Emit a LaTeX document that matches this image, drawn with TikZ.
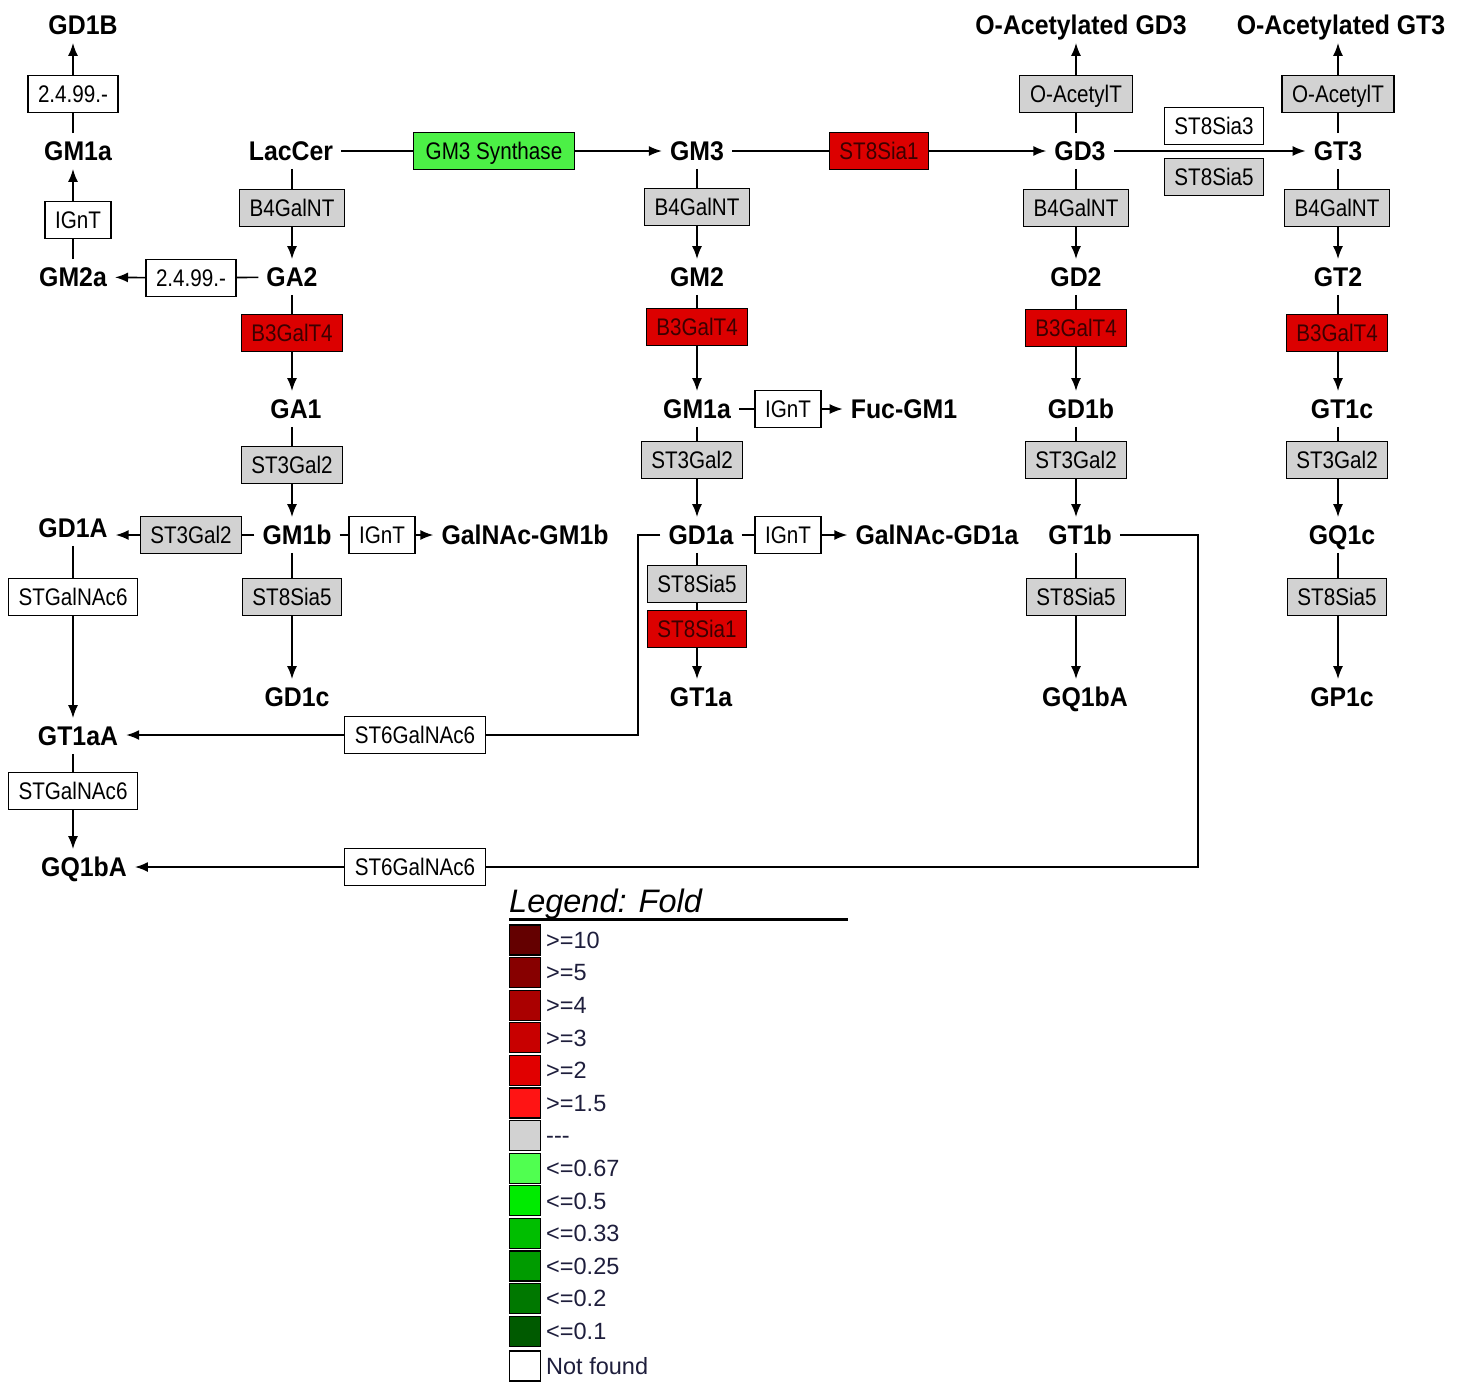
\documentclass[tikz,border=0pt]{standalone}
\usepackage{fontspec}
\setmainfont{Liberation Sans}
\newfontfamily\enzfont[FakeStretch=0.86]{Liberation Sans}
\newfontfamily\metfont[FakeStretch=0.92]{Liberation Sans}
\usetikzlibrary{arrows.meta}
\definecolor{enzgray}{RGB}{210,210,210}
\definecolor{enzred}{RGB}{220,0,0}
\definecolor{enzgreen}{RGB}{76,240,70}
\definecolor{redtext}{RGB}{60,0,0}
\definecolor{legtext}{RGB}{30,30,60}
\definecolor{lg1}{RGB}{100,0,0}
\definecolor{lg2}{RGB}{135,0,0}
\definecolor{lg3}{RGB}{170,0,0}
\definecolor{lg4}{RGB}{200,0,0}
\definecolor{lg5}{RGB}{225,0,0}
\definecolor{lg6}{RGB}{255,20,20}
\definecolor{lg7}{RGB}{210,210,210}
\definecolor{lg8}{RGB}{80,255,80}
\definecolor{lg9}{RGB}{0,235,0}
\definecolor{lg10}{RGB}{0,190,0}
\definecolor{lg11}{RGB}{0,155,0}
\definecolor{lg12}{RGB}{0,120,0}
\definecolor{lg13}{RGB}{0,90,0}
\begin{document}
\begin{tikzpicture}[x=1pt,y=-1pt,
  met/.style={font=\metfont\bfseries\fontsize{27}{30}\selectfont, text height=19.5pt, text depth=0pt, inner xsep=8pt, inner ysep=8pt},
  enz/.style={draw, line width=1.3pt, font=\enzfont\fontsize{24}{28}\selectfont, text height=17pt, text depth=0pt, inner xsep=10pt, inner ysep=0pt, minimum height=37pt, fill=white},
  ew/.style={enz},
  eg/.style={enz, fill=enzgray},
  er/.style={enz, fill=enzred, text=redtext},
  egn/.style={enz, fill=enzgreen},
  ln/.style={line width=1.6pt},
  arr/.style={line width=1.6pt, -{Latex[length=13pt,width=10pt]}},
  sw/.style={draw, line width=1.3pt, minimum width=31pt, minimum height=30pt, inner sep=0pt},
  lgl/.style={anchor=west, text=legtext, font=\fontsize{23.5}{26}\selectfont, text height=16.5pt, text depth=0pt, inner sep=0pt}
]
\useasboundingbox (0,0) rectangle (1467,1382);
\fill[white] (0,0) rectangle (1467,1382);
\coordinate (c1) at (73,0);
\coordinate (c2) at (292,0);
\coordinate (c3) at (697,0);
\coordinate (c4) at (1076,0);
\coordinate (c5) at (1338,0);

% metabolites
\node[met] (GD1B) at (83,25) {GD1B};
\node[met] (GM1aL) at (78,151) {GM1a};
\node[met] (GM2a) at (73,277) {GM2a};
\node[met] (LacCer) at (291,151) {LacCer};
\node[met] (GA2) at (292,277) {GA2};
\node[met] (GA1) at (296,409) {GA1};
\node[met] (GM1b) at (297,535) {GM1b};
\node[met] (GD1A) at (73,528) {GD1A};
\node[met] (GalGM1b) at (525,535) {GalNAc-GM1b};
\node[met] (GD1c) at (297,697) {GD1c};
\node[met] (GT1aA) at (78,736) {GT1aA};
\node[met] (GQ1bAL) at (84,867) {GQ1bA};
\node[met] (GM3) at (697,151) {GM3};
\node[met] (GM2) at (697,277) {GM2};
\node[met] (GM1aM) at (697,409) {GM1a};
\node[met] (FucGM1) at (904,409) {Fuc-GM1};
\node[met] (GD1a) at (701,535) {GD1a};
\node[met] (GalGD1a) at (937,535) {GalNAc-GD1a};
\node[met] (GT1a) at (701,697) {GT1a};
\node[met] (GD3) at (1080,151) {GD3};
\node[met] (GD2) at (1076,277) {GD2};
\node[met] (GD1b) at (1081,409) {GD1b};
\node[met] (GT1b) at (1080,535) {GT1b};
\node[met] (GQ1bAR) at (1085,697) {GQ1bA};
\node[met] (OAGD3) at (1081,25) {O-Acetylated GD3};
\node[met] (GT3) at (1338,151) {GT3};
\node[met] (GT2) at (1338,277) {GT2};
\node[met] (GT1c) at (1342,409) {GT1c};
\node[met] (GQ1c) at (1342,535) {GQ1c};
\node[met] (GP1c) at (1342,697) {GP1c};
\node[met] (OAGT3) at (1341,25) {O-Acetylated GT3};

% enzymes
\node[ew] (e24a) at (73,94) {2.4.99.-};
\node[ew] (ig1) at (78,220) {IGnT};
\node[ew] (e24b) at (191,278) {2.4.99.-};
\node[eg] (b4a) at (292,208) {B4GalNT};
\node[er] (b3a) at (292,333) {B3GalT4};
\node[eg] (s3a) at (292,465) {ST3Gal2};
\node[eg] (s3e) at (191,535) {ST3Gal2};
\node[ew] (ig3) at (382,535) {IGnT};
\node[ew, minimum width=129pt] (stg1) at (73,597) {STGalNAc6};
\node[eg] (s8a) at (292,597) {ST8Sia5};
\node[ew, minimum width=140pt] (st6a) at (415,735) {ST6GalNAc6};
\node[ew, minimum width=129pt] (stg2) at (73,791) {STGalNAc6};
\node[ew, minimum width=140pt] (st6b) at (415,867) {ST6GalNAc6};
\node[egn, minimum width=161pt] (gm3s) at (494,151) {GM3 Synthase};
\node[eg] (b4b) at (697,207) {B4GalNT};
\node[er] (b3b) at (697,327) {B3GalT4};
\node[ew] (ig2) at (788,409) {IGnT};
\node[eg] (s3b) at (692,460) {ST3Gal2};
\node[ew] (ig4) at (788,535) {IGnT};
\node[eg] (s8b) at (697,584) {ST8Sia5};
\node[er] (s8c) at (697,629) {ST8Sia1};
\node[er] (st1t) at (879,151) {ST8Sia1};
\node[eg, minimum width=113pt] (oa1) at (1076,94) {O-AcetylT};
\node[ew] (st3x) at (1214,126) {ST8Sia3};
\node[eg] (st5x) at (1214,177) {ST8Sia5};
\node[eg] (b4c) at (1076,208) {B4GalNT};
\node[er] (b3c) at (1076,328) {B3GalT4};
\node[eg] (s3c) at (1076,460) {ST3Gal2};
\node[eg] (s8d) at (1076,597) {ST8Sia5};
\node[eg, minimum width=111pt] (oa2) at (1338,94) {O-AcetylT};
\node[eg] (b4d) at (1337,208) {B4GalNT};
\node[er] (b3d) at (1337,333) {B3GalT4};
\node[eg] (s3d) at (1337,460) {ST3Gal2};
\node[eg] (s8e) at (1337,597) {ST8Sia5};

% column 1
\draw[ln] (c1 |- GM2a.north) -- (c1 |- ig1.south);
\draw[arr] (c1 |- ig1.north) -- (c1 |- GM1aL.south);
\draw[ln] (c1 |- GM1aL.north) -- (c1 |- e24a.south);
\draw[arr] (c1 |- e24a.north) -- (c1 |- GD1B.south);
\draw[ln] (c1 |- GD1A.south) -- (c1 |- stg1.north);
\draw[arr] (c1 |- stg1.south) -- (c1 |- GT1aA.north);
\draw[ln] (c1 |- GT1aA.south) -- (c1 |- stg2.north);
\draw[arr] (c1 |- stg2.south) -- (c1 |- GQ1bAL.north);
% column 2
\draw[ln] (c2 |- LacCer.south) -- (c2 |- b4a.north);
\draw[arr] (c2 |- b4a.south) -- (c2 |- GA2.north);
\draw[ln] (c2 |- GA2.south) -- (c2 |- b3a.north);
\draw[arr] (c2 |- b3a.south) -- (c2 |- GA1.north);
\draw[ln] (c2 |- GA1.south) -- (c2 |- s3a.north);
\draw[arr] (c2 |- s3a.south) -- (c2 |- GM1b.north);
\draw[ln] (c2 |- GM1b.south) -- (c2 |- s8a.north);
\draw[arr] (c2 |- s8a.south) -- (c2 |- GD1c.north);
% column 3
\draw[ln] (c3 |- GM3.south) -- (c3 |- b4b.north);
\draw[arr] (c3 |- b4b.south) -- (c3 |- GM2.north);
\draw[ln] (c3 |- GM2.south) -- (c3 |- b3b.north);
\draw[arr] (c3 |- b3b.south) -- (c3 |- GM1aM.north);
\draw[ln] (c3 |- GM1aM.south) -- (c3 |- s3b.north);
\draw[arr] (c3 |- s3b.south) -- (c3 |- GD1a.north);
\draw[ln] (c3 |- GD1a.south) -- (c3 |- s8b.north);
\draw[ln] (c3 |- s8b.south) -- (c3 |- s8c.north);
\draw[arr] (c3 |- s8c.south) -- (c3 |- GT1a.north);
% column 4
\draw[ln] (c4 |- GD3.north) -- (c4 |- oa1.south);
\draw[arr] (c4 |- oa1.north) -- (c4 |- OAGD3.south);
\draw[ln] (c4 |- GD3.south) -- (c4 |- b4c.north);
\draw[arr] (c4 |- b4c.south) -- (c4 |- GD2.north);
\draw[ln] (c4 |- GD2.south) -- (c4 |- b3c.north);
\draw[arr] (c4 |- b3c.south) -- (c4 |- GD1b.north);
\draw[ln] (c4 |- GD1b.south) -- (c4 |- s3c.north);
\draw[arr] (c4 |- s3c.south) -- (c4 |- GT1b.north);
\draw[ln] (c4 |- GT1b.south) -- (c4 |- s8d.north);
\draw[arr] (c4 |- s8d.south) -- (c4 |- GQ1bAR.north);
% column 5
\draw[ln] (c5 |- GT3.north) -- (c5 |- oa2.south);
\draw[arr] (c5 |- oa2.north) -- (c5 |- OAGT3.south);
\draw[ln] (c5 |- GT3.south) -- (c5 |- b4d.north);
\draw[arr] (c5 |- b4d.south) -- (c5 |- GT2.north);
\draw[ln] (c5 |- GT2.south) -- (c5 |- b3d.north);
\draw[arr] (c5 |- b3d.south) -- (c5 |- GT1c.north);
\draw[ln] (c5 |- GT1c.south) -- (c5 |- s3d.north);
\draw[arr] (c5 |- s3d.south) -- (c5 |- GQ1c.north);
\draw[ln] (c5 |- GQ1c.south) -- (c5 |- s8e.north);
\draw[arr] (c5 |- s8e.south) -- (c5 |- GP1c.north);
% horizontal
\draw[ln] (LacCer) -- (gm3s);
\draw[arr] (gm3s) -- (GM3);
\draw[ln] (GM3) -- (st1t);
\draw[arr] (st1t) -- (GD3);
\draw[arr] (GD3) -- (GT3);
\draw[ln] (GA2) -- (e24b);
\draw[arr] (e24b) -- (GM2a);
\draw[ln] (GM1b) -- (s3e);
\draw[arr] (s3e.west) -- (s3e.west -| GD1A.east);
\draw[ln] (GM1b) -- (ig3);
\draw[arr] (ig3) -- (GalGM1b);
\draw[ln] (GM1aM) -- (ig2);
\draw[arr] (ig2) -- (FucGM1);
\draw[ln] (GD1a) -- (ig4);
\draw[arr] (ig4) -- (GalGD1a);
% elbows
\coordinate (k1) at (638,735);
\coordinate (k2) at (1198,867);
\draw[ln] (GD1a.west) -| (k1) -- (st6a.east);
\draw[arr] (st6a.west) -- (st6a.west -| GT1aA.east);
\draw[ln] (GT1b.east) -| (k2) -- (st6b.east);
\draw[arr] (st6b.west) -- (st6b.west -| GQ1bAL.east);

% legend
\node[anchor=base west, inner sep=0pt, font=\itshape\fontsize{32.5}{35}\selectfont] (legt) at (509,912) {Legend: Fold};
\draw[line width=3pt] (509,919) -- (848,919);
\foreach \c/\t [count=\i] in {lg1/{>=10},lg2/{>=5},lg3/{>=4},lg4/{>=3},lg5/{>=2},lg6/{>=1.5},lg7/{{-}{-}{-}},lg8/{<=0.67},lg9/{<=0.5},lg10/{<=0.33},lg11/{<=0.25},lg12/{<=0.2},lg13/{<=0.1}}{
  \node[sw, fill=\c] (sw\i) at (525,{940+(\i-1)*32.6}) {};
  \node[lgl] (lb\i) at (546,{940+(\i-1)*32.6}) {\t};
}
\node[sw, fill=white] (sw14) at (525,1366) {};
\node[lgl] (lb14) at (546,1366) {Not found};
\end{tikzpicture}
\end{document}
